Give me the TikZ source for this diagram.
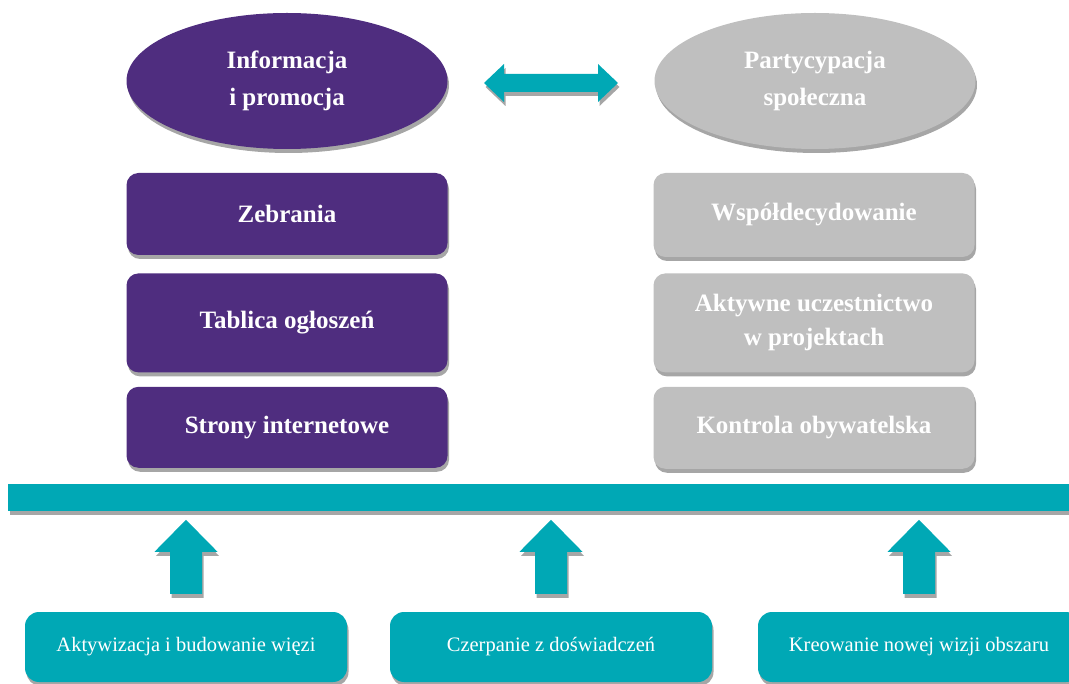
\documentclass[tikz,border=0pt]{standalone}
\usepackage{fontspec}
\setmainfont{Liberation Serif}
\usetikzlibrary{positioning,calc,shapes.geometric,shadows}
\definecolor{fiolet}{HTML}{4F2D7F}
\definecolor{szary}{HTML}{BFBFBF}
\definecolor{morski}{HTML}{00A8B5}
\definecolor{cien}{HTML}{A6A6A6}

\begin{document}
\begin{tikzpicture}[x=1pt,y=-1pt,
  cast/.style={drop shadow={shadow xshift=1.5pt,shadow yshift=-4pt,fill=cien,opacity=1}},
  owal/.style={ellipse,cast,minimum width=321pt,minimum height=136pt,align=center,text=white,font=\fontsize{25}{37}\selectfont\bfseries},
  blok/.style={rounded corners=12pt,cast,minimum width=321pt,align=center,text=white,font=\fontsize{25}{34}\selectfont\bfseries},
  dol/.style={rounded corners=14pt,cast,fill=morski,minimum width=322pt,minimum height=70pt,text=white,font=\fontsize{20.5}{24}\selectfont},
  strz/.style={fill=morski,cast}]
  \useasboundingbox (0,0) rectangle (1069,684);
  \clip (0,0) rectangle (1069,684);
  % top ellipses
  \node[owal,fill=fiolet] (info) at (287,81) {Informacja\\i promocja};
  \node[owal,fill=szary] (part) at (815,81) {Partycypacja\\społeczna};
  \coordinate (sr) at ($(info.east)!0.5!(part.west)$);
  \path[strz] ($(sr)+(-67,2)$) -- ++(20,-19) -- ++(0,10) -- ++(94,0) -- ++(0,-10) -- ++(20,19)
    -- ++(-20,19) -- ++(0,-10) -- ++(-94,0) -- ++(0,10) -- cycle;
  % left column
  \node[blok,fill=fiolet,minimum height=82pt] (zeb) at (287,214) {Zebrania};
  \node[blok,fill=fiolet,minimum height=99pt,below=18pt of zeb] (tab) {Tablica ogłoszeń};
  \node[blok,fill=fiolet,minimum height=81pt,below=14pt of tab] (www) {Strony internetowe};
  % right column
  \node[blok,fill=szary,minimum height=84pt] (wsp) at (814,215) {Współdecydowanie};
  \node[blok,fill=szary,minimum height=99pt,below=16pt of wsp] (akt) {Aktywne uczestnictwo\\w projektach};
  \node[blok,fill=szary,minimum height=82pt,below=14pt of akt] (kon) {Kontrola obywatelska};
  % bar
  \node[fill=morski,cast,inner sep=0pt,minimum width=1080pt,minimum height=27pt,anchor=north west] (pas) at (8,484) {};
  % bottom
  \node[dol] (akw) at (186,647) {Aktywizacja i budowanie więzi};
  \node[dol] (cze) at (551,647) {Czerpanie z doświadczeń};
  \node[dol] (kre) at (919,647) {Kreowanie nowej wizji obszaru};
  \foreach \b in {akw,cze,kre}
    \path[strz] ($(\b.north)+(0,-92)$) -- ++(31.5,32) -- ++(-15.5,0) -- ++(0,42) -- ++(-32,0)
      -- ++(0,-42) -- ++(-15.5,0) -- cycle;
\end{tikzpicture}
\end{document}
